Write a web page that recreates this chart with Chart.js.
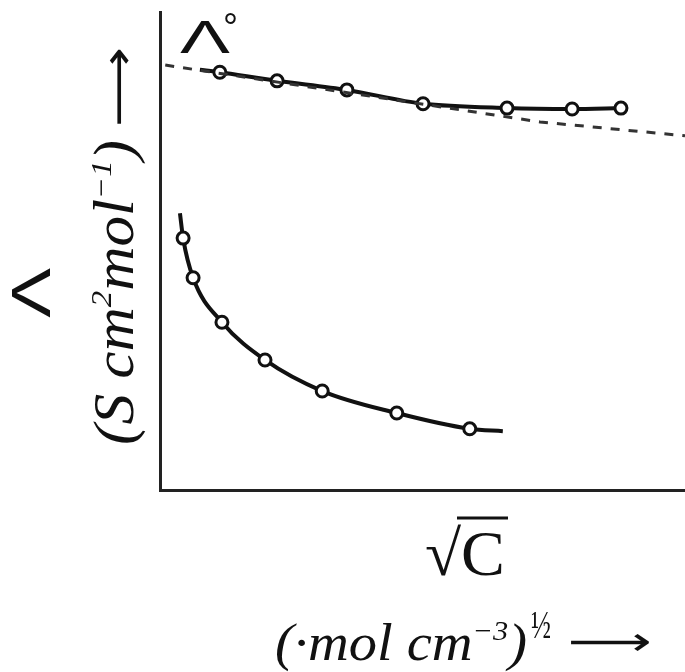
<!DOCTYPE html>
<html>
<head>
<meta charset="utf-8">
<script src="https://cdn.jsdelivr.net/npm/chart.js@4.4.1/dist/chart.umd.min.js"></script>
<style>
  html, body { margin: 0; padding: 0; background: #fff; }
  canvas { display: block; }
</style>
</head>
<body>
<canvas id="chart" width="685" height="672"></canvas>
<script>
// values, arbitrary units on both axes (0 - 10)
// strong electrolyte: first point is where the solid line starts (no marker)
const strongX = [0.76, 1.14, 2.23, 3.56, 5.01, 6.61, 7.85, 8.78];
const strongY = [8.79, 8.74, 8.56, 8.37, 8.08, 7.99, 7.97, 7.99];

// dashed extrapolation back to the intercept (Λ°)
const extrapX = [0.1, 7.24, 10];
const extrapY = [8.89, 7.70, 7.41];

// weak electrolyte: first and last points are the line ends (no marker)
const weakX = [0.38, 0.44, 0.63, 1.18, 2.0, 3.09, 4.51, 5.90, 6.53];
const weakY = [5.79, 5.27, 4.44, 3.51, 2.72, 2.07, 1.61, 1.28, 1.23];

const pts = (xs, ys) => xs.map((x, i) => ({ x, y: ys[i] }));

// draw a row of text pieces (with raised superscripts), squeezed to a width
function drawRuns(ctx, runs, x, y, width) {
  ctx.save();
  let total = 0;
  runs.forEach(r => {
    ctx.font = r.font;
    r.w = ctx.measureText(r.text).width;
    total += r.w;
  });
  ctx.translate(x, y);
  ctx.scale(width / total, 1);
  let cx = 0;
  runs.forEach(r => {
    ctx.font = r.font;
    ctx.fillText(r.text, cx, -(r.rise || 0));
    cx += r.w;
  });
  ctx.restore();
}

const fitText = (ctx, text, font, x, y, width) => drawRuns(ctx, [{ text, font }], x, y, width);

const labels = {
  id: "labels",
  afterDraw(chart) {
    const ctx = chart.ctx;
    ctx.save();
    ctx.fillStyle = "#111";
    ctx.strokeStyle = "#111";
    ctx.textBaseline = "alphabetic";
    ctx.textAlign = "left";

    // Λ° at the intercept
    fitText(ctx, "Λ", "46px 'Liberation Sans'", 180, 53, 50);
    fitText(ctx, "°", "40px 'Liberation Sans'", 223, 41, 15);

    // y axis title, rotated
    ctx.save();
    ctx.translate(50, 318);
    ctx.rotate(-Math.PI / 2);
    fitText(ctx, "Λ", "56px 'Liberation Sans'", 0, 0, 50);
    ctx.restore();

    const big = "italic 56px 'Liberation Serif'";
    const sup = "italic 30px 'Liberation Serif'";
    ctx.save();
    ctx.translate(133, 445);
    ctx.rotate(-Math.PI / 2);
    drawRuns(ctx, [
      { text: "(S cm", font: big },
      { text: "2", font: sup, rise: 22 },
      { text: "mol", font: big },
      { text: "−1", font: sup, rise: 22 },
      { text: ")", font: big }
    ], 0, 0, 305);
    fitText(ctx, "⟶", "44px 'DejaVu Sans'", 318, 0, 80);
    ctx.restore();

    // x axis title
    fitText(ctx, "√C", "64px 'Liberation Serif'", 425, 575, 80);
    ctx.lineWidth = 3;
    ctx.beginPath();
    ctx.moveTo(457, 518);
    ctx.lineTo(508, 518);
    ctx.stroke();

    const mid = "italic 52px 'Liberation Serif'";
    drawRuns(ctx, [
      { text: "(·mol cm", font: mid },
      { text: "−3", font: "italic 28px 'Liberation Serif'", rise: 20 },
      { text: ")", font: mid }
    ], 275, 660, 252);
    fitText(ctx, "½", "40px 'Liberation Serif'", 531, 638, 20);
    fitText(ctx, "⟶", "40px 'DejaVu Sans'", 568, 655, 84);
    ctx.restore();
  }
};

new Chart(document.getElementById("chart"), {
  type: "line",
  data: {
    datasets: [
      {
        data: pts(extrapX, extrapY),
        borderColor: "#333",
        borderWidth: 3,
        borderDash: [9, 9],
        pointRadius: 0,
        tension: 0
      },
      {
        data: pts(strongX, strongY),
        borderColor: "#111",
        borderWidth: 4,
        tension: 0.3,
        pointRadius: c => (c.dataIndex === 0 ? 0 : 6),
        pointBackgroundColor: "#fff",
        pointBorderColor: "#111",
        pointBorderWidth: 3
      },
      {
        data: pts(weakX, weakY),
        borderColor: "#111",
        borderWidth: 4,
        cubicInterpolationMode: "monotone",
        pointRadius: c => (c.dataIndex === 0 || c.dataIndex === weakX.length - 1 ? 0 : 6),
        pointBackgroundColor: "#fff",
        pointBorderColor: "#111",
        pointBorderWidth: 3
      }
    ]
  },
  options: {
    responsive: false,
    animation: false,
    devicePixelRatio: 1,
    layout: { autoPadding: false, padding: { left: 160, top: 12, right: 0, bottom: 182 } },
    plugins: { legend: { display: false }, tooltip: { enabled: false } },
    scales: {
      x: {
        type: "linear",
        min: 0,
        max: 10,
        ticks: { display: false },
        grid: { display: false, drawTicks: false },
        border: { color: "#222", width: 3 }
      },
      y: {
        type: "linear",
        min: 0,
        max: 10,
        ticks: { display: false },
        grid: { display: false, drawTicks: false },
        border: { color: "#222", width: 3 }
      }
    }
  },
  plugins: [labels]
});
</script>
</body>
</html>
